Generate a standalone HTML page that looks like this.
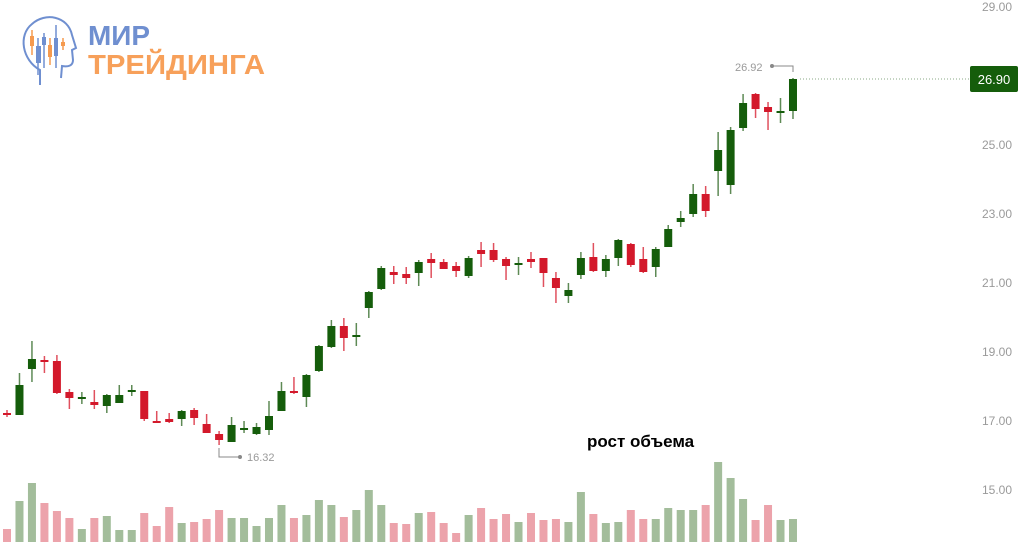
<!DOCTYPE html>
<html><head><meta charset="utf-8"><style>
html,body{margin:0;padding:0;background:#fff;width:1024px;height:542px;overflow:hidden}
svg{display:block}
text{font-family:"Liberation Sans",sans-serif}
</style></head><body>
<svg id="s" width="1024" height="542" xmlns="http://www.w3.org/2000/svg">
<g font-size="12" fill="#9a9a9a">
<text x="1012" y="11" text-anchor="end">29.00</text>
<text x="1012" y="149" text-anchor="end">25.00</text>
<text x="1012" y="218" text-anchor="end">23.00</text>
<text x="1012" y="287" text-anchor="end">21.00</text>
<text x="1012" y="356" text-anchor="end">19.00</text>
<text x="1012" y="425" text-anchor="end">17.00</text>
<text x="1012" y="494" text-anchor="end">15.00</text>
</g>
<line x1="800" y1="79" x2="970" y2="79" stroke="#8aa884" stroke-width="1" stroke-dasharray="1,2"/>
<rect x="970" y="66" width="48" height="26" rx="2" fill="#155d0b"/>
<text x="994" y="84" text-anchor="middle" font-size="13" fill="#fff">26.90</text>
<text x="735" y="71" font-size="11" fill="#9a9a9a">26.92</text>
<polyline points="772,66 793,66 793,72" fill="none" stroke="#888" stroke-width="1"/><circle cx="772" cy="66" r="2" fill="#888"/>
<polyline points="219,448 219,457 240,457" fill="none" stroke="#888" stroke-width="1"/><circle cx="240" cy="457" r="2" fill="#888"/>
<text x="247" y="461" font-size="11" fill="#9a9a9a">16.32</text>
<text x="587" y="447" font-size="17" font-weight="bold" fill="#000">рост объема</text>
<g id="c"></g>
<!-- logo -->
<g fill="none" stroke="#6f8fd0" stroke-width="2">
<path d="M40,85 L40,70 C22,60 18,35 32,24 C45,12 68,16 72,35 L76,48 L72,50 L73,60 C73,66 68,67 62,66 L61,78"/>
</g>
<g stroke-width="1.5">
<line x1="32" y1="30" x2="32" y2="55" stroke="#f59a4f"/><rect x="30" y="36" width="4" height="10" fill="#f59a4f"/>
<line x1="38" y1="38" x2="38" y2="75" stroke="#6f8fd0"/><rect x="36" y="46" width="5" height="17" fill="#6f8fd0"/>
<line x1="44" y1="33" x2="44" y2="68" stroke="#6f8fd0"/><rect x="42" y="37" width="4" height="8" fill="#6f8fd0"/>
<line x1="50" y1="38" x2="50" y2="65" stroke="#f59a4f"/><rect x="48" y="45" width="4" height="12" fill="#f59a4f"/>
<line x1="56" y1="25" x2="56" y2="68" stroke="#6f8fd0"/><rect x="54" y="38" width="4" height="18" fill="#6f8fd0"/>
<line x1="63" y1="38" x2="63" y2="50" stroke="#f59a4f"/><rect x="61" y="42" width="4" height="4" fill="#f59a4f"/>
</g>
<text x="88" y="45" font-size="28" font-weight="bold" fill="#6f8fd0" textLength="62" lengthAdjust="spacingAndGlyphs">МИР</text>
<text x="88" y="74" font-size="28" font-weight="bold" fill="#f7a05a" textLength="177" lengthAdjust="spacingAndGlyphs">ТРЕЙДИНГА</text>
</svg>
<script>
var d=[
['r',410,413,415,417,529],['g',373,385,415,415,501],['g',341,359,369,382,483],['r',356,360,362,373,503],
['r',355,361,393,394,511],['r',389,392,398,409,518],['g',392,397,398,404,529],['r',390,402,405,409,518],
['g',394,395,406,413,516],['g',385,395,403,403,530],['g',385,390,392,396,530],['r',391,391,419,421,513],
['r',411,421,423,423,526],['r',413,419,422,423,507],['g',410,411,419,426,523],['r',408,410,418,425,522],
['r',414,424,433,433,519],['r',431,434,440,445,510],['g',417,425,442,442,518],['g',421,428,430,433,518],
['g',423,427,434,435,526],['g',401,416,430,435,518],['g',382,391,411,411,505],['r',377,391,393,394,518],
['g',374,375,397,407,515],['g',345,346,371,372,500],['g',320,326,347,348,505],['r',318,326,338,351,517],
['g',323,335,337,346,510],['g',291,292,308,318,490],['g',266,268,289,290,505],['r',266,272,275,284,523],
['r',267,274,278,284,524],['g',260,262,273,286,513],['r',253,259,263,278,512],['r',259,262,269,269,523],
['r',262,266,271,277,533],['g',256,258,276,278,515],['r',242,250,254,267,508],['r',243,250,260,262,519],
['r',257,259,266,280,514],['g',257,263,264,275,522],['r',252,259,262,268,513],['r',258,258,273,287,520],
['r',272,278,288,303,519],['g',283,290,296,303,522],['g',252,258,275,279,492],['r',243,257,271,272,514],
['g',255,259,271,277,523],['g',239,240,258,266,522],['r',243,244,265,267,510],['r',247,259,272,273,519],
['g',247,249,267,277,519],['g',225,229,247,247,508],['g',211,218,222,227,510],['g',184,194,214,217,510],
['r',186,194,211,217,505],['g',132,150,171,196,462],['g',127,130,185,194,478],['g',94,103,128,131,499],
['r',93,94,109,118,520],['r',102,107,112,130,505],['g',98,111,112,123,520],['g',78,79,111,119,519]];
var h='';
d.forEach(function(c,i){var x=7+i*12.476;var g=c[0]=='g';
var vc=g?'#a3bd9b':'#eca3ab',bc=g?'#155d0b':'#d3192b',wc=g?'#5e8a55':'#e0505e';
h+='<rect x="'+(x-4)+'" y="'+c[5]+'" width="8" height="'+(542-c[5])+'" fill="'+vc+'"/>';
h+='<line x1="'+x+'" x2="'+x+'" y1="'+c[1]+'" y2="'+c[4]+'" stroke="'+wc+'" stroke-width="1.5"/>';
var bh=Math.max(2,c[3]-c[2]);
h+='<rect x="'+(x-4)+'" y="'+c[2]+'" width="8" height="'+bh+'" fill="'+bc+'"/>';});
document.getElementById('c').innerHTML=h;
</script>
</body></html>
